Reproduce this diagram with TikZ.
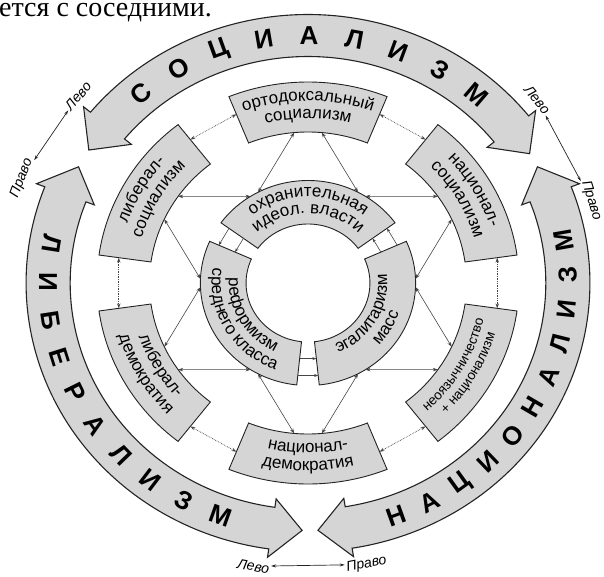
\documentclass[tikz,border=0pt]{standalone}
\usepackage{fontspec}
\setmainfont{Liberation Serif}
\setsansfont{Liberation Sans}
\usetikzlibrary{arrows.meta, decorations.text}
\definecolor{panelgray}{RGB}{213,213,213}
\definecolor{inkdark}{RGB}{35,35,35}
\definecolor{linkgray}{RGB}{70,70,70}

% fonts for the curved labels
\newcommand{\boxfont}{\sffamily\fontsize{17}{18}\selectfont}
\newcommand{\smallboxfont}{\sffamily\fontsize{13.5}{14}\selectfont}
% annular piece: start, end, inner r, outer r
\newcommand{\ringpart}[4]{(#1:#4) arc[start angle=#1, end angle=#2, radius=#4] -- (#2:#3) arc[start angle=#2, end angle=#1, radius=#3] -- cycle}
% outer band with a head on each end: tip, base, base, tip
\newcommand{\bigarrow}[4]{(#2:268.5) arc[start angle=#2, end angle=#3, radius=268.5] -- (#3:277) -- (#4:247.5) -- (#3:218) -- (#3:226.5) arc[start angle=#3, end angle=#2, radius=226.5] -- (#2:218) -- (#1:247.5) -- (#2:277) -- cycle}
% curved label: start, end, radius, text
\newcommand{\arclabel}[4]{\path[decorate, decoration={text along path, text align=center, text={#4}}] (#1:#3) arc[start angle=#1, end angle=#2, radius=#3];}

\begin{document}
\begin{tikzpicture}[x=1.05pt, y=1pt,
    panel/.style={fill=panelgray, draw=inkdark, line width=0.9pt, line join=miter},
    bandpanel/.style={fill=panelgray, draw=inkdark, line width=1.1pt, line join=miter},
    bigletter/.style={font=\sffamily\bfseries\fontsize{26}{26}\selectfont, inner sep=0pt},
    sidelabel/.style={font=\sffamily\itshape\fontsize{14}{14}\selectfont, inner sep=1pt},
    ringlink/.style={densely dotted, line width=0.7pt, linkgray, {Stealth[length=5pt,width=3.5pt]}-{Stealth[length=5pt,width=3.5pt]}},
    starlink/.style={line width=0.6pt, linkgray, {Stealth[length=5pt,width=3.5pt]}-{Stealth[length=5pt,width=3.5pt]}},
    gaplink/.style={line width=0.6pt, linkgray, -{Stealth[length=4pt,width=3pt]}},
    sidelink/.style={line width=0.7pt, inkdark, {Stealth[length=5pt,width=3pt]}-{Stealth[length=5pt,width=3pt]}}
  ]
\useasboundingbox (-308pt,-293pt) rectangle (296pt,283pt);

\node[anchor=base west, inner sep=0pt, font=\fontsize{28}{28}\selectfont] (heading) at (-309pt,266pt) {ется с соседними.};

% outer bands
\path[bandpanel] \bigarrow{147.5}{140.5}{38.5}{31.5};
\path[bandpanel] \bigarrow{28}{21}{-81}{-87.8};
\path[bandpanel] \bigarrow{152}{159}{262}{268.7};

\foreach \ch [count=\i from 0] in {С,О,Ц,И,А,Л,И,З,М} {
  \pgfmathsetmacro\ang{130-10.06*\i}
  \node[bigletter, rotate=\ang-90] (soc\i) at (\ang:247.5) {\ch};
}
\foreach \ch [count=\i from 0] in {Л,И,Б,Е,Р,А,Л,И,З,М} {
  \pgfmathsetmacro\ang{171+8.82*\i}
  \node[bigletter, rotate=\ang+90] (lib\i) at (\ang:247.5) {\ch};
}
\foreach \ch [count=\i from 0] in {Н,А,Ц,И,О,Н,А,Л,И,З,М} {
  \pgfmathsetmacro\ang{-70.2+8.02*\i}
  \node[bigletter, rotate=\ang+90] (nat\i) at (\ang:247.5) {\ch};
}

% middle ring
\path[panel] \ringpart{68}{112}{151}{201};
\path[panel] \ringpart{8}{52}{151}{201};
\path[panel] \ringpart{-52}{-8}{151}{201};
\path[panel] \ringpart{-112}{-68}{151}{201};
\path[panel] \ringpart{188}{232}{151}{201};
\path[panel] \ringpart{128}{172}{151}{201};

\arclabel{130}{50}{182.2}{|\boxfont|ортодоксальный}
\arclabel{130}{50}{164.6}{|\boxfont|социализм}
\arclabel{70}{-10}{182.2}{|\boxfont|национал-}
\arclabel{70}{-10}{164.6}{|\boxfont|социализм}
\arclabel{190}{110}{182.2}{|\boxfont|либерал-}
\arclabel{190}{110}{164.6}{|\boxfont|социализм}
\arclabel{-70}{10}{171.1}{|\smallboxfont|неоязычничество}
\arclabel{-70}{10}{185.4}{|\smallboxfont|+ национализм}
\arclabel{-130}{-50}{169.8}{|\boxfont|национал-}
\arclabel{-130}{-50}{187.6}{|\boxfont|демократия}
\arclabel{170}{250}{169.8}{|\boxfont|либерал-}
\arclabel{170}{250}{187.6}{|\boxfont|демократия}

% inner ring
\path[panel] \ringpart{36}{144}{59}{102.5};
\path[panel] \ringpart{156}{264}{59}{102.5};
\path[panel] \ringpart{276}{384}{59}{102.5};

\arclabel{150}{30}{86.1}{|\boxfont|охранительная}
\arclabel{150}{30}{69.6}{|\boxfont|идеол. власти}
\arclabel{150}{270}{75.4}{|\boxfont|реформизм}
\arclabel{150}{270}{91.8}{|\boxfont|среднего класса}
\arclabel{270}{390}{75.4}{|\boxfont|эгалитаризм}
\arclabel{270}{390}{91.8}{|\boxfont|масс}

% links between neighbouring boxes
\foreach \a [count=\i] in {90,30,-30,-90,-150,150} {
  \coordinate (box\i cw) at (\a-22:182);
  \coordinate (box\i ccw) at (\a+22:182);
}
\foreach \i/\j in {1/2,2/3,3/4,4/5,5/6,6/1}
  \draw[ringlink] (box\i cw) -- (box\j ccw);

% star lines from the boxes to the inner ring
\foreach \a [count=\i] in {90,30,-30,-90,-150,150} {
  \coordinate (va\i) at (\a-5:151);
  \coordinate (vb\i) at (\a-115:151);
  \coordinate (ea\i) at (\a-27.7:102.5);
  \coordinate (eb\i) at (\a-92.3:102.5);
  \draw[starlink] (va\i) -- (ea\i);
  \draw[starlink] (vb\i) -- (eb\i);
}

% short arrows across the inner gaps
\foreach \g [count=\i] in {30,150,270} {
  \coordinate (gin\i a) at (\g-6:76);
  \coordinate (gin\i b) at (\g+6:76);
  \coordinate (gout\i a) at (\g-6:93);
  \coordinate (gout\i b) at (\g+6:93);
  \draw[gaplink] (gin\i a) -- (gin\i b);
  \draw[gaplink] (gout\i a) -- (gout\i b);
}

% left / right marks
\node[sidelabel, rotate=69] (pravoTL) at (159:292) {Право};
\node[sidelabel, rotate=49.5] (levoTL) at (139.5:288) {Лево};
\draw[sidelink] (pravoTL) -- (levoTL);
\node[sidelabel, rotate=-50] (levoTR) at (40:285) {Лево};
\node[sidelabel, rotate=-73] (pravoTR) at (17:282) {Право};
\draw[sidelink] (levoTR) -- (pravoTR);
\node[sidelabel, rotate=-10.4] (levoB) at (-100.4:288) {Лево};
\node[sidelabel, rotate=11.2] (pravoB) at (-78.8:287) {Право};
\draw[sidelink] (levoB) -- (pravoB);
\end{tikzpicture}
\end{document}
